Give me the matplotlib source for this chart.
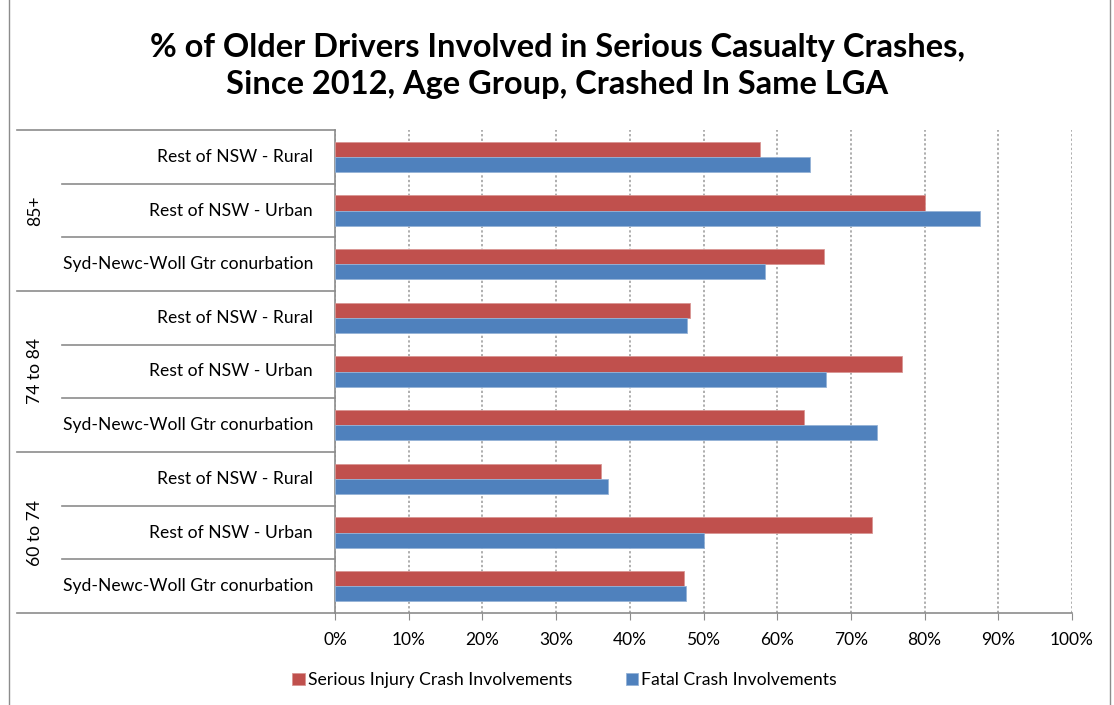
import matplotlib
matplotlib.use('Agg')
from matplotlib import pyplot as plt
from matplotlib.lines import Line2D
import numpy as np

# rows listed top to bottom as they appear on the chart
groups = ["85+", "74 to 84", "60 to 74"]
areas = ["Rest of NSW - Rural", "Rest of NSW - Urban", "Syd-Newc-Woll Gtr conurbation"]
serious_injury = [57.6, 80.0, 66.4, 48.2, 77.0, 63.7, 36.1, 72.8, 47.4]
fatal = [64.4, 87.5, 58.4, 47.8, 66.6, 73.5, 37.1, 50.0, 47.6]
ticks = list(range(0, 101, 10))

red = "#C0504D"
blue = "#4F81BD"
grey = "#8C8C8C"

plt.rcParams['font.family'] = ['Lato', 'DejaVu Sans']

fig = plt.figure(figsize=(11.14, 7.05), dpi=100)
ax = fig.add_axes([335 / 1114, 1 - 613 / 705, 737 / 1114, 483 / 705])

labels = [a for g in groups for a in areas]
y = np.arange(len(labels))
h = 0.28
ax.barh(y - h / 2, serious_injury, height=h, color=red, edgecolor="#D99694", linewidth=0.6,
        label="Serious Injury Crash Involvements", zorder=3)
ax.barh(y + h / 2, fatal, height=h, color=blue, edgecolor="#95B3D7", linewidth=0.6,
        label="Fatal Crash Involvements", zorder=3)

ax.set_ylim(len(labels) - 0.5, -0.5)
ax.set_xlim(0, 100)
ax.set_xticks(ticks)
ax.set_xticklabels([f"{t}%" for t in ticks], fontsize=12.5)
ax.tick_params(axis='x', length=5, color=grey, pad=9)
ax.set_yticks([])
ax.grid(axis='x', linestyle=(0, (1.5, 1.5)), color="#999999", linewidth=1.1, zorder=0)

for side in ['top', 'right']:
    ax.spines[side].set_visible(False)
for side in ['left', 'bottom']:
    ax.spines[side].set_color(grey)
    ax.spines[side].set_linewidth(1.2)

# category labels and separator lines in the label column
trans = ax.get_yaxis_transform()
for i, lab in enumerate(labels):
    ax.text(-0.03, i, lab, transform=trans, ha='right', va='center', fontsize=12.6)
for k in range(len(labels) + 1):
    x0 = -0.4315 if k % 3 == 0 else -0.3704
    ax.add_line(Line2D([x0, 0], [k - 0.5, k - 0.5], transform=trans, color=grey,
                       linewidth=1.2, clip_on=False))
for gi, g in enumerate(groups):
    ax.text(-0.407, gi * 3 + 1, g, transform=trans, rotation=90, ha='center', va='center',
            fontsize=12.6)

fig.text(0.5, 1 - 66 / 705, "% of Older Drivers Involved in Serious Casualty Crashes,\nSince 2012, Age Group, Crashed In Same LGA",
         ha='center', va='center', fontsize=23.5, fontweight='bold', linespacing=1.3)

fig.legend(loc='center', bbox_to_anchor=(0.507, 1 - 680 / 705), ncol=2, frameon=False,
           fontsize=12.7, handlelength=0.7, handleheight=0.7, handletextpad=0.2,
           columnspacing=3.0)

# outer chart frame
fig.add_artist(Line2D([9 / 1114, 9 / 1114], [0, 1], transform=fig.transFigure, color=grey, linewidth=1))
fig.add_artist(Line2D([1110 / 1114, 1110 / 1114], [0, 1], transform=fig.transFigure, color=grey, linewidth=1))

plt.savefig("out.png", dpi=100)
plt.close()
